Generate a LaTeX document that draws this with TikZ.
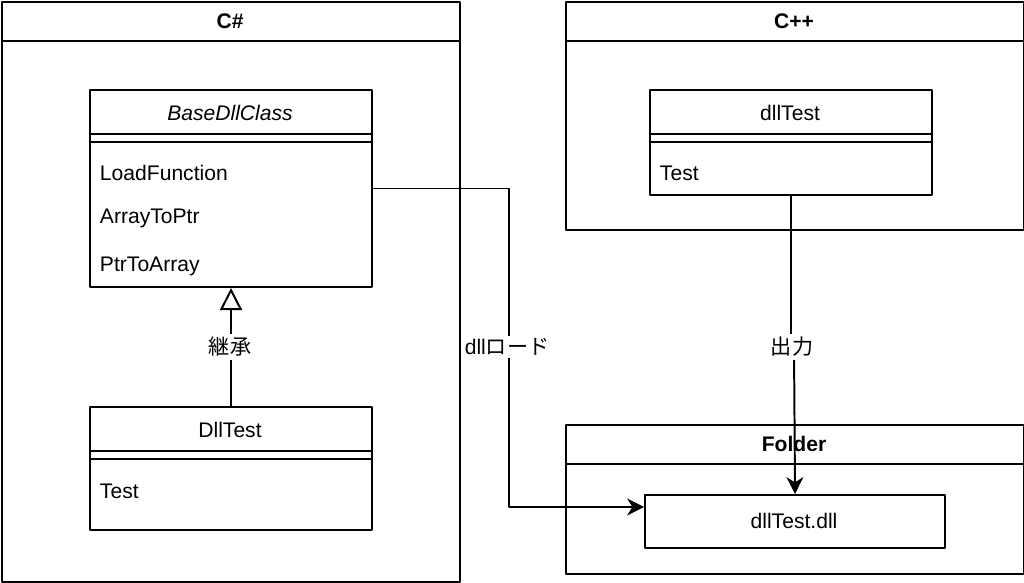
\documentclass[tikz,border=0pt]{standalone}
\usepackage{fontspec}
\setmainfont{Liberation Sans}
\newfontfamily\jpfont{Noto Sans CJK JP}
\usetikzlibrary{positioning,arrows.meta}

\begin{document}
\begin{tikzpicture}[x=0.025cm, y=-0.025cm, line width=1.4pt, line join=round,
		font=\fontsize{15}{18}\selectfont,
		box/.style={draw, rectangle, anchor=north west, inner sep=0pt},
		lbl/.style={fill=white, inner sep=2pt},
		item/.style={anchor=west, inner sep=0pt},
		inherit/.style={-{Triangle[open, length=0.55cm, width=0.55cm]}},
		flow/.style={-{Stealth[length=0.42cm, width=0.42cm, inset=0.13cm]}}]
		\useasboundingbox (0,0) rectangle (1024,583);
		% containers
		\node[box, minimum width=11.45cm, minimum height=14.5cm] (csharp) at (1,1) {};
		\node[box, minimum width=11.45cm, minimum height=5.7cm] (cpp) at (565,1) {};
		\node[box, minimum width=11.45cm, minimum height=3.725cm] (folder) at (565,424) {};
		\draw (1,41) -- (459,41);
		\draw (565,41) -- (1023,41);
		\draw (565,464) -- (1023,464);
		\node[font=\fontsize{15}{18}\selectfont\bfseries] (csharptitle) at (230,21) {C\#};
		\node[font=\fontsize{15}{18}\selectfont\bfseries] (cpptitle) at (794,21) {C++};
		\node[font=\fontsize{15}{18}\selectfont\bfseries] (foldertitle) at (794,444) {Folder};
		% classes
		\node[box, minimum width=7.05cm, minimum height=4.925cm] (base) at (89,89) {};
		\draw (89,134) -- (371,134) (89,142) -- (371,142);
		\node[font=\fontsize{15}{18}\selectfont\itshape] (basename) at (230,113) {BaseDllClass};
		\node[item] (loadfn) at (99,173) {LoadFunction};
		\node[item] (arrtoptr) at (99,218) {ArrayToPtr};
		\node[item] (ptrtoarr) at (99,266) {PtrToArray};
		\node[box, minimum width=7.05cm, minimum height=3.075cm] (dlltest) at (89,406) {};
		\draw (89,451) -- (371,451) (89,459) -- (371,459);
		\node (dlltestname) at (230,430) {DllTest};
		\node[item] (dlltestfn) at (99,491) {Test};
		\node[box, minimum width=7.05cm, minimum height=2.625cm] (cppclass) at (649,89) {};
		\draw (649,134) -- (931,134) (649,142) -- (931,142);
		\node (cppname) at (790,113) {dllTest};
		\node[item] (cppfn) at (659,173) {Test};
		% output file
		\node[box, minimum width=7.5cm, minimum height=1.325cm] (dll) at (644,494) {};
		\node (dllname) at (794,521) {dllTest.dll};
		% connectors
		\coordinate (loadin) at (644,507);
		\coordinate (outjog) at (794,347);
		\draw[inherit] (dlltest.north) -- (base.south);
		\node[lbl] (inheritlbl) at (230,347) {\jpfont 継承};
		\draw[flow] (base.east) -- ++(136,0) |- (loadin);
		\node[lbl] (loadlbl) at (507,347) {dll\jpfont ロード};
		\draw (cppclass.south) -- (cppclass.south |- outjog) -- (outjog);
		\draw[flow] (outjog) -- (dll.north);
		\node[lbl] (outlbl) at (792,347) {\jpfont 出力};
\end{tikzpicture}
\end{document}
